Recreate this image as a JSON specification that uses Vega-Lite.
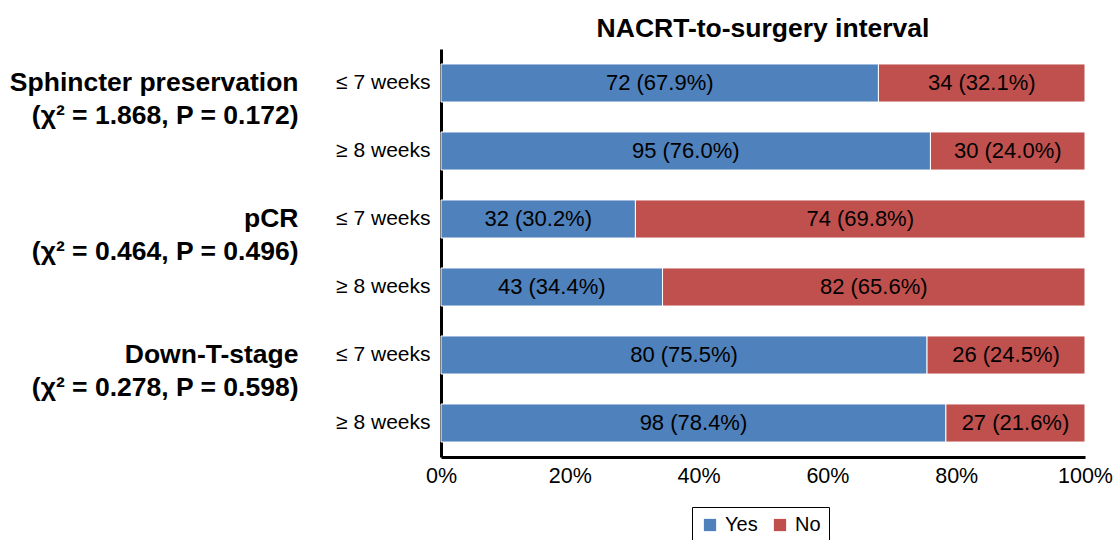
{
  "$schema": "https://vega.github.io/schema/vega-lite/v6.json",
  "width": 644,
  "height": 408,
  "autosize": "none",
  "padding": {"left": 441, "top": 49, "right": 30, "bottom": 83},
  "config": {
    "font": "Liberation Sans",
    "view": {"stroke": null},
    "legend": {"labelFont": "Liberation Sans"}
  },
  "title": {
    "text": "NACRT-to-surgery interval",
    "fontSize": 26.5,
    "fontWeight": "bold",
    "anchor": "middle",
    "frame": "group",
    "offset": 7,
    "color": "black"
  },
  "data": {
    "values": [
      {"grp": "Sphincter preservation|(χ² = 1.868, P = 0.172)", "row": "sp7|≤ 7 weeks", "outcome": "Yes", "ord": 1, "n": 72, "lbl": "72 (67.9%)"},
      {"grp": "Sphincter preservation|(χ² = 1.868, P = 0.172)", "row": "sp7|≤ 7 weeks", "outcome": "No", "ord": 2, "n": 34, "lbl": "34 (32.1%)"},
      {"grp": "Sphincter preservation|(χ² = 1.868, P = 0.172)", "row": "sp8|≥ 8 weeks", "outcome": "Yes", "ord": 1, "n": 95, "lbl": "95 (76.0%)"},
      {"grp": "Sphincter preservation|(χ² = 1.868, P = 0.172)", "row": "sp8|≥ 8 weeks", "outcome": "No", "ord": 2, "n": 30, "lbl": "30 (24.0%)"},
      {"grp": "pCR|(χ² = 0.464, P = 0.496)", "row": "pc7|≤ 7 weeks", "outcome": "Yes", "ord": 1, "n": 32, "lbl": "32 (30.2%)"},
      {"grp": "pCR|(χ² = 0.464, P = 0.496)", "row": "pc7|≤ 7 weeks", "outcome": "No", "ord": 2, "n": 74, "lbl": "74 (69.8%)"},
      {"grp": "pCR|(χ² = 0.464, P = 0.496)", "row": "pc8|≥ 8 weeks", "outcome": "Yes", "ord": 1, "n": 43, "lbl": "43 (34.4%)"},
      {"grp": "pCR|(χ² = 0.464, P = 0.496)", "row": "pc8|≥ 8 weeks", "outcome": "No", "ord": 2, "n": 82, "lbl": "82 (65.6%)"},
      {"grp": "Down-T-stage|(χ² = 0.278, P = 0.598)", "row": "dt7|≤ 7 weeks", "outcome": "Yes", "ord": 1, "n": 80, "lbl": "80 (75.5%)"},
      {"grp": "Down-T-stage|(χ² = 0.278, P = 0.598)", "row": "dt7|≤ 7 weeks", "outcome": "No", "ord": 2, "n": 26, "lbl": "26 (24.5%)"},
      {"grp": "Down-T-stage|(χ² = 0.278, P = 0.598)", "row": "dt8|≥ 8 weeks", "outcome": "Yes", "ord": 1, "n": 98, "lbl": "98 (78.4%)"},
      {"grp": "Down-T-stage|(χ² = 0.278, P = 0.598)", "row": "dt8|≥ 8 weeks", "outcome": "No", "ord": 2, "n": 27, "lbl": "27 (21.6%)"}
    ]
  },
  "layer": [
    {
      "layer": [
        {
          "mark": {"type": "bar", "stroke": "white", "strokeWidth": 1},
          "encoding": {
            "y": {
              "field": "row",
              "type": "nominal",
              "sort": ["sp7|≤ 7 weeks", "sp8|≥ 8 weeks", "pc7|≤ 7 weeks", "pc8|≥ 8 weeks", "dt7|≤ 7 weeks", "dt8|≥ 8 weeks"],
              "scale": {"paddingInner": 0.44, "paddingOuter": 0.22},
              "axis": {
                "title": null,
                "orient": "left",
                "labelExpr": "split(datum.label, '|')[1]",
                "ticks": false,
                "labelFontSize": 21,
                "labelColor": "black",
                "domainColor": "black",
                "domainWidth": 3,
                "labelPadding": 11,
                "labelLimit": 300
              }
            },
            "x": {
              "field": "n",
              "type": "quantitative",
              "stack": "normalize",
              "axis": {
                "title": null,
                "format": "%",
                "values": [0, 0.2, 0.4, 0.6, 0.8, 1],
                "grid": false,
                "ticks": false,
                "labelFlush": false,
                "labelFontSize": 21.5,
                "labelColor": "black",
                "domainColor": "black",
                "domainWidth": 3,
                "labelPadding": 8
              }
            },
            "color": {
              "field": "outcome",
              "type": "nominal",
              "scale": {"domain": ["Yes", "No"], "range": ["#4F81BD", "#C0504D"]},
              "legend": {
                "title": null,
                "orient": "none",
                "legendX": 251,
                "legendY": 458,
                "direction": "horizontal",
                "symbolType": "square",
                "symbolSize": 150,
                "symbolStrokeWidth": 0,
                "labelFontSize": 20,
                "labelColor": "black",
                "labelOffset": 5,
                "strokeColor": "black",
                "padding": 8,
                "columnPadding": 12
              }
            },
            "order": {"field": "ord", "type": "quantitative"}
          }
        },
        {
          "mark": {"type": "text", "fontSize": 22, "color": "black"},
          "encoding": {
            "y": {
              "field": "row",
              "type": "nominal",
              "sort": ["sp7|≤ 7 weeks", "sp8|≥ 8 weeks", "pc7|≤ 7 weeks", "pc8|≥ 8 weeks", "dt7|≤ 7 weeks", "dt8|≥ 8 weeks"]
            },
            "x": {"field": "n", "type": "quantitative", "stack": "normalize", "bandPosition": 0.5},
            "detail": {"field": "outcome"},
            "order": {"field": "ord", "type": "quantitative"},
            "text": {"field": "lbl"}
          }
        }
      ]
    },
    {
      "mark": {"type": "point", "opacity": 0},
      "encoding": {
        "y": {
          "field": "grp",
          "type": "nominal",
          "sort": ["Sphincter preservation|(χ² = 1.868, P = 0.172)", "pCR|(χ² = 0.464, P = 0.496)", "Down-T-stage|(χ² = 0.278, P = 0.598)"],
          "scale": {"type": "band", "paddingInner": 0, "paddingOuter": 0},
          "axis": {
            "title": null,
            "orient": "left",
            "offset": 143,
            "domain": false,
            "ticks": false,
            "grid": false,
            "labelExpr": "split(datum.label, '|')",
            "labelFontSize": 26.5,
            "labelFontWeight": "bold",
            "labelLineHeight": 33,
            "labelOffset": -34,
            "labelBaseline": "middle",
            "labelAlign": "right",
            "labelPadding": 0,
            "labelColor": "black",
            "labelLimit": 500
          }
        }
      }
    }
  ],
  "resolve": {"scale": {"y": "independent"}, "axis": {"y": "independent"}}
}
